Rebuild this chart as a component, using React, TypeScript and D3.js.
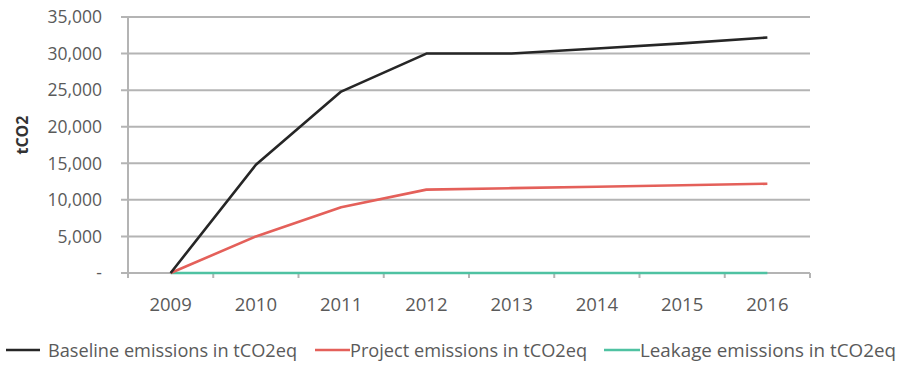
import React from "react";
import * as d3 from "d3";

// Emissions per year, tCO2eq
const years = ["2009", "2010", "2011", "2012", "2013", "2014", "2015", "2016"];
const baseline = [0, 14800, 24800, 30000, 30000, 30700, 31400, 32200];
const project = [0, 5000, 9000, 11400, 11600, 11800, 12000, 12200];
const leakage = [0, 0, 0, 0, 0, 0, 0, 0];
const yTicks = [0, 5000, 10000, 15000, 20000, 25000, 30000, 35000];

const seriesNames = [
  "Baseline emissions in tCO2eq",
  "Project emissions in tCO2eq",
  "Leakage emissions in tCO2eq",
];
const seriesColors = ["#262626", "#e4605a", "#4fc2a2"];

const W = 903;
const H = 369;
const FONT = "'Open Sans', 'Noto Sans', sans-serif";
const TEXT = "#5a5a5a";
const GRID = "#b4b4b4";

export default function App() {
  const x = d3.scaleBand<string>().domain(years).range([128, 810]);
  const y = d3.scaleLinear().domain([0, 35000]).range([273, 17]);
  const cx = (yr: string) => (x(yr) as number) + x.bandwidth() / 2;

  const line = d3
    .line<number>()
    .x((_, i) => cx(years[i]))
    .y((v) => y(v));

  const fmt = d3.format(",");
  const series = [baseline, project, leakage];

  // legend layout: swatch start, swatch end, text start, text width
  const legend = [
    { x0: 6, x1: 40, tx: 48, tw: 249 },
    { x0: 315, x1: 350, tx: 350, tw: 237 },
    { x0: 604, x1: 640, tx: 640, tw: 256 },
  ];

  const xTickPos = years.map((yr) => x(yr) as number).concat([810]);

  return (
    <svg
      width={W}
      height={H}
      style={{ position: "absolute", left: 0, top: 0, background: "#fff" }}
      fontFamily={FONT}
    >
      {/* horizontal gridlines with left tick stubs */}
      {yTicks.map((t) => (
        <line
          key={"g" + t}
          x1={121}
          x2={810}
          y1={y(t)}
          y2={y(t)}
          stroke={GRID}
          strokeWidth={2}
        />
      ))}
      {/* y axis */}
      <line x1={128} x2={128} y1={y(35000)} y2={y(0) + 5} stroke={GRID} strokeWidth={2} />
      {/* x tick marks at category boundaries */}
      {xTickPos.map((p, i) => (
        <line key={"xt" + i} x1={p} x2={p} y1={y(0)} y2={y(0) + 5} stroke={GRID} strokeWidth={2} />
      ))}
      {/* y tick labels */}
      {yTicks.map((t) => (
        <text
          key={"yl" + t}
          x={102}
          y={y(t)}
          dy="0.36em"
          textAnchor="end"
          fontSize={17.5}
          fill={TEXT}
        >
          {t === 0 ? "-" : fmt(t)}
        </text>
      ))}
      {/* x category labels */}
      {years.map((yr) => (
        <text
          key={"xl" + yr}
          x={cx(yr)}
          y={311}
          textAnchor="middle"
          fontSize={18.5}
          fill={TEXT}
        >
          {yr}
        </text>
      ))}
      {/* y axis title */}
      <text
        transform={`translate(28,135) rotate(-90)`}
        textAnchor="middle"
        fontSize={16}
        fontWeight="bold"
        fill="#333"
      >
        tCO2
      </text>
      {/* series lines, drawn leakage first so it sits at the bottom */}
      {[2, 1, 0].map((si) => (
        <path
          key={"s" + si}
          d={line(series[si]) as string}
          fill="none"
          stroke={seriesColors[si]}
          strokeWidth={2.6}
          strokeLinejoin="round"
        />
      ))}
      {/* legend */}
      {legend.map((l, i) => (
        <g key={"lg" + i}>
          <line x1={l.x0} x2={l.x1} y1={350} y2={350} stroke={seriesColors[i]} strokeWidth={2.6} />
          <text
            x={l.tx}
            y={357}
            fontSize={19}
            fill={TEXT}
            textLength={l.tw}
            lengthAdjust="spacingAndGlyphs"
          >
            {seriesNames[i]}
          </text>
        </g>
      ))}
    </svg>
  );
}
